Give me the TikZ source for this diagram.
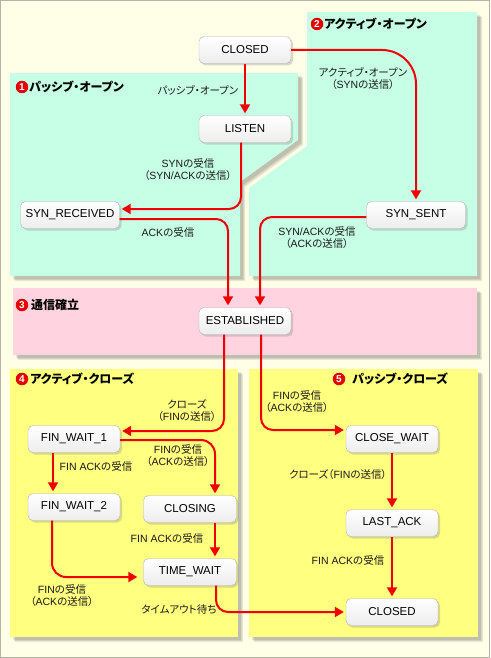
\documentclass[tikz,border=0pt]{standalone}
\usepackage{fontspec}
\setmainfont{Noto Sans CJK JP}[RawFeature=+palt]
\newfontfamily\latfont{Liberation Sans}
\newcommand\la[1]{{\latfont #1}}
\usetikzlibrary{arrows.meta,shadows}
\definecolor{bgcream}{HTML}{FFFFE8}
\definecolor{framegray}{HTML}{B4B4A8}
\definecolor{mint}{HTML}{C6FFE6}
\definecolor{pinkp}{HTML}{FFD4E0}
\definecolor{yellowp}{HTML}{FFFF80}
\definecolor{arrred}{HTML}{F00000}
\begin{document}
\begin{tikzpicture}[x=1pt,y=-1pt,
  pshadow/.style={fill=black,opacity=0.09},
  state/.style={rectangle, rounded corners=5pt, draw=gray!60, top color=white, bottom color=gray!14,
    minimum width=92pt, minimum height=27pt, inner sep=0pt,
    font=\latfont\fontsize{11.5}{13}\selectfont,
    drop shadow={shadow xshift=2pt,shadow yshift=-2pt,opacity=0.3,fill=gray}},
  lbl/.style={font=\fontsize{10.5}{12}\selectfont, align=center, inner sep=0pt, text=black!90},
  ttl/.style={font=\bfseries\fontsize{12}{14}\selectfont, anchor=west, inner sep=0pt},
  num/.style={circle, fill=red!90!black, text=white, font=\latfont\bfseries\fontsize{10}{10}\selectfont,
    inner sep=0pt, minimum size=12.5pt},
  arr/.style={draw=arrred, line width=2pt, -{Triangle[length=9pt,width=10pt]}, shorten >=2pt},
]
\useasboundingbox (0,0) rectangle (490,658);
\draw[framegray, fill=bgcream] (0.5,0.5) rectangle (489.5,657.5);
% panels
\def\pA{(10,73) -- (298,73) -- (298,140) -- (240,182) -- (240,276) -- (10,276) -- cycle}
\def\pB{(307,12) -- (477,12) -- (477,276) -- (249,276) -- (249,188) -- (307,146) -- cycle}
\def\pC{(13,288) rectangle (477,355)}
\def\pD{(10,369) rectangle (238,637)}
\def\pE{(249,369) rectangle (478,637)}
\foreach \s in {3,4,5}{
  \fill[pshadow,shift={(\s,\s)}] \pA;
  \fill[pshadow,shift={(\s,\s)}] \pB;
  \fill[pshadow,shift={(\s,\s)}] \pC;
  \fill[pshadow,shift={(\s,\s)}] \pD;
  \fill[pshadow,shift={(\s,\s)}] \pE;
}
\fill[mint] \pA;
\fill[mint] \pB;
\fill[pinkp] \pC;
\fill[yellowp] \pD;
\fill[yellowp] \pE;
% titles
\node[num] (n1) at (22,87) {1}; \node[ttl] (t1) at (29,87) {パッシブ・オープン};
\node[num] (n2) at (317,24) {2}; \node[ttl] (t2) at (324,24) {アクティブ・オープン};
\node[num] (n3) at (22,305) {3}; \node[ttl] (t3) at (31,305) {通信確立};
\node[num] (n4) at (22,379) {4}; \node[ttl] (t4) at (30,379) {アクティブ・クローズ};
\node[num] (n5) at (339,379) {5}; \node[ttl] (t5) at (352,379) {パッシブ・クローズ};
% states
\node[state] (closedT) at (245,50) {CLOSED};
\node[state] (listen) at (245,129) {LISTEN};
\node[state,minimum width=99pt] (synrec) at (70,215) {SYN\_RECEIVED};
\node[state,minimum width=99pt] (synsent) at (416,215) {SYN\_SENT};
\node[state] (estab) at (245,321) {ESTABLISHED};
\node[state] (fw1) at (74,439) {FIN\_WAIT\_1};
\node[state] (fw2) at (74,507) {FIN\_WAIT\_2};
\node[state,minimum width=93pt] (closing) at (190,509) {CLOSING};
\node[state,minimum width=93pt] (timewait) at (190,572) {TIME\_WAIT};
\node[state] (closewait) at (392,439) {CLOSE\_WAIT};
\node[state] (lastack) at (392,523) {LAST\_ACK};
\node[state] (closedB) at (392,612) {CLOSED};
% transitions
\draw[arr] (closedT) -- (listen);
\draw[arr,rounded corners=34pt] (closedT.east) -| (synsent.north);
\draw[arr,rounded corners=12pt] ([xshift=-4pt]listen.south) |- ([yshift=6pt]synrec.east);
\draw[arr,rounded corners=12pt] ([yshift=-4pt]synrec.east) -| ([xshift=-17pt]estab.north);
\draw[arr,rounded corners=12pt] ([yshift=-2pt]synsent.west) -| ([xshift=15pt]estab.north);
\draw[arr,rounded corners=12pt] ([xshift=-21pt]estab.south) |- ([yshift=8pt]fw1.east);
\draw[arr,rounded corners=12pt] ([xshift=16pt]estab.south) |- ([yshift=9pt]closewait.west);
\draw[arr] ([xshift=-21pt]fw1.south) -- ([xshift=-21pt]fw2.north);
\draw[arr,rounded corners=14pt] ([yshift=-1pt]fw1.east) -| ([xshift=25pt]closing.north);
\draw[arr] ([xshift=25pt]closing.south) -- ([xshift=25pt]timewait.north);
\draw[arr,rounded corners=14pt,shorten >=6pt] ([xshift=-22pt]fw2.south) |- ([yshift=-5pt]timewait.west);
\draw[arr,rounded corners=12pt] ([xshift=26pt]timewait.south) |- (closedB.west);
\draw[arr] (closewait) -- (lastack);
\draw[arr] (lastack) -- (closedB);
% labels
\node[lbl] (l1) at (198,90) {パッシブ・オープン};
\node[lbl] (l2) at (363,79) {アクティブ・オープン\\（\la{SYN}の送信）};
\node[lbl] (l3) at (188,170) {\la{SYN}の受信\\（\la{SYN/ACK}の送信）};
\node[lbl] (l4) at (168,232) {\la{ACK}の受信};
\node[lbl] (l5) at (317,238) {\la{SYN/ACK}の受信\\（\la{ACK}の送信）};
\node[lbl] (l6) at (187,411) {クローズ\\（\la{FIN}の送信）};
\node[lbl] (l7) at (297,402) {\la{FIN}の受信\\（\la{ACK}の送信）};
\node[lbl] (l8) at (96,466) {\la{FIN ACK}の受信};
\node[lbl] (l9) at (178,456) {\la{FIN}の受信\\（\la{ACK}の送信）};
\node[lbl] (l10) at (167,538) {\la{FIN ACK}の受信};
\node[lbl] (l11) at (62,596) {\la{FIN}の受信\\（\la{ACK}の送信）};
\node[lbl] (l12) at (179,610) {タイムアウト待ち};
\node[lbl] (l13) at (338,475) {クローズ（\la{FIN}の送信）};
\node[lbl] (l14) at (348,560) {\la{FIN ACK}の受信};
\end{tikzpicture}
\end{document}
